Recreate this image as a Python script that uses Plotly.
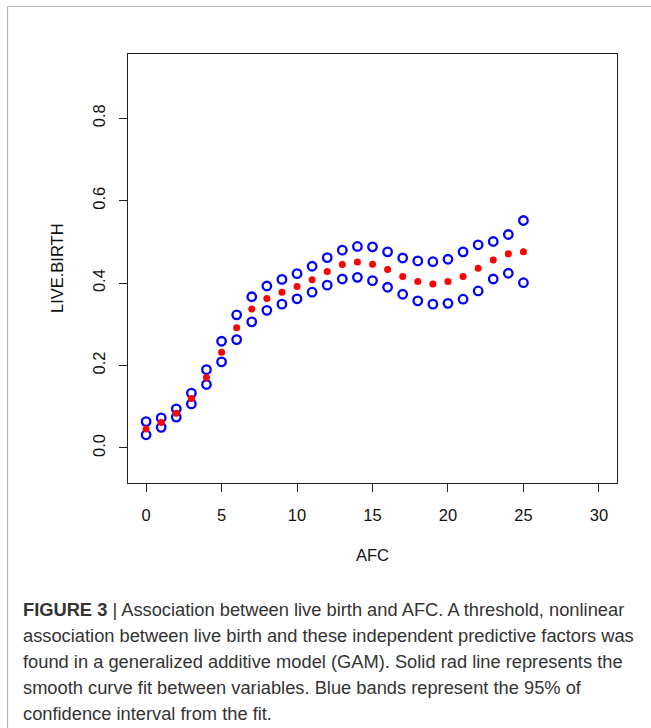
import plotly.graph_objects as go

# ---------------- data ----------------
afc = list(range(26))
fit = [0.046, 0.062, 0.084, 0.120, 0.171, 0.232, 0.292, 0.337, 0.363, 0.378,
       0.392, 0.408, 0.428, 0.445, 0.451, 0.446, 0.433, 0.416, 0.404, 0.398,
       0.404, 0.416, 0.436, 0.456, 0.471, 0.476]
upper = [0.064, 0.073, 0.095, 0.133, 0.190, 0.259, 0.323, 0.367, 0.393, 0.409,
         0.423, 0.441, 0.462, 0.480, 0.489, 0.488, 0.476, 0.461, 0.454, 0.452,
         0.458, 0.476, 0.493, 0.501, 0.518, 0.552]
lower = [0.032, 0.050, 0.075, 0.107, 0.154, 0.209, 0.263, 0.306, 0.334, 0.349,
         0.362, 0.378, 0.395, 0.410, 0.414, 0.406, 0.390, 0.373, 0.357, 0.349,
         0.351, 0.361, 0.381, 0.410, 0.424, 0.401]

x_ticks = [0, 5, 10, 15, 20, 25, 30]
y_ticks = [0.0, 0.2, 0.4, 0.6, 0.8]
y_tick_labels = ["0.0", "0.2", "0.4", "0.6", "0.8"]
x_title = "AFC"
y_title = "LIVE.BIRTH"
caption_lines = [
    "<b>FIGURE 3</b> | Association between live birth and AFC. A threshold, nonlinear",
    "association between live birth and these independent predictive factors was",
    "found in a generalized additive model (GAM). Solid rad line represents the",
    "smooth curve fit between variables. Blue bands represent the 95% of",
    "confidence interval from the fit.",
]

# ---------------- layout geometry (pixels) ----------------
W, H = 651, 728
L, R, T, B = 128, 617, 54, 483


def px_x(px):
    return (px - L) / (R - L)


def px_y(py):
    return (B - py) / (B - T)


FONT = "Liberation Sans, Arial, Helvetica, sans-serif"
AX_SIZE = 16.5

fig = go.Figure()
fig.add_trace(go.Scatter(x=afc, y=upper, mode="markers",
                         marker=dict(symbol="circle-open", size=8.5, color="#0000ff",
                                     line=dict(width=2.3, color="#0000ff")),
                         showlegend=False, hoverinfo="skip"))
fig.add_trace(go.Scatter(x=afc, y=lower, mode="markers",
                         marker=dict(symbol="circle-open", size=8.5, color="#0000ff",
                                     line=dict(width=2.3, color="#0000ff")),
                         showlegend=False, hoverinfo="skip"))
fig.add_trace(go.Scatter(x=afc, y=fit, mode="markers",
                         marker=dict(symbol="circle", size=7, color="#ff0000",
                                     line=dict(width=0)),
                         showlegend=False, hoverinfo="skip"))

axis_common = dict(showgrid=False, zeroline=False, showline=True, linecolor="#222",
                   linewidth=1.3, mirror=True, ticks="outside", ticklen=8,
                   tickwidth=1.2, tickcolor="#222",
                   tickfont=dict(family=FONT, size=AX_SIZE, color="#111"))

fig.update_layout(
    width=W, height=H,
    margin=dict(l=L, r=W - R, t=T, b=H - B, pad=0),
    paper_bgcolor="white", plot_bgcolor="white",
    xaxis=dict(range=[-1.2, 31.2], tickmode="array", tickvals=x_ticks,
               ticktext=[str(v) for v in x_ticks], ticklabelstandoff=9,
               **axis_common),
    yaxis=dict(range=[-0.085, 0.956], tickmode="array", tickvals=y_ticks,
               ticktext=y_tick_labels, tickangle=-90, ticklabelstandoff=7,
               **axis_common),
)

annotations = [
    dict(text=x_title, x=px_x(372), y=px_y(555), xref="paper", yref="paper",
         xanchor="center", yanchor="middle", showarrow=False,
         font=dict(family=FONT, size=AX_SIZE, color="#111")),
    dict(text=y_title, x=px_x(57), y=px_y(268), xref="paper", yref="paper",
         xanchor="center", yanchor="middle", showarrow=False, textangle=-90,
         font=dict(family=FONT, size=AX_SIZE, color="#111")),
]
line_y = [609, 635, 661, 687, 713]
for txt, ly in zip(caption_lines, line_y):
    annotations.append(dict(text=txt, x=px_x(21), y=px_y(ly), xref="paper", yref="paper",
                            xanchor="left", yanchor="middle", showarrow=False,
                            font=dict(family=FONT, size=18.3, color="#333333")))
fig.update_layout(annotations=annotations)

# outer figure frame (light gray)
fig.add_shape(type="line", xref="paper", yref="paper",
              x0=px_x(7.5), x1=px_x(651), y0=px_y(6.5), y1=px_y(6.5),
              line=dict(color="#b4b4b4", width=1.2))
fig.add_shape(type="line", xref="paper", yref="paper",
              x0=px_x(7.5), x1=px_x(7.5), y0=px_y(6.5), y1=px_y(728),
              line=dict(color="#b4b4b4", width=1.2))

fig.write_html("out.html")
